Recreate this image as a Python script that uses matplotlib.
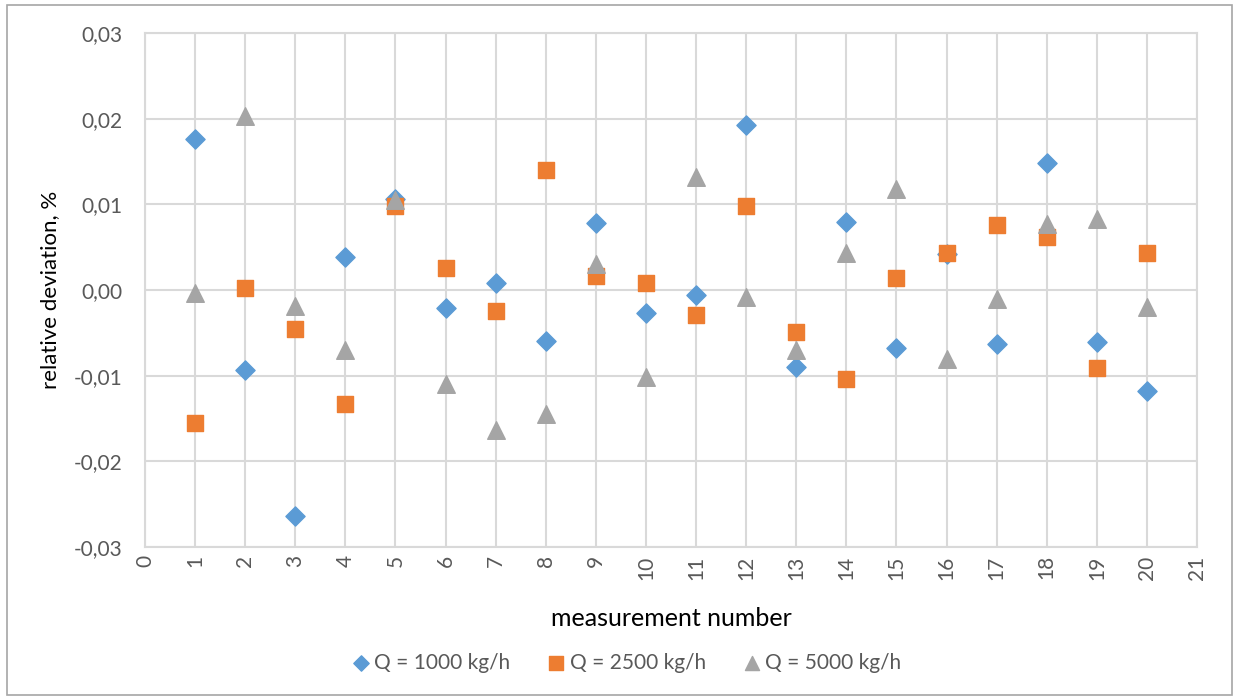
# Relative deviation of each measurement for three mass flow rates
import matplotlib
matplotlib.use('Agg')
import matplotlib.pyplot as plt
from matplotlib.patches import Rectangle
from matplotlib.ticker import FuncFormatter

plt.rcParams['font.family'] = ['Lato', 'DejaVu Sans']

# Measurement numbers and relative deviations per flow rate
measurement = list(range(1, 21))
dev_1000 = [0.0176, -0.0093, -0.0264, 0.0039, 0.0106, -0.0021, 0.0008, -0.0060,
            0.0078, -0.0027, -0.0006, 0.0193, -0.0090, 0.0079, -0.0068, 0.0042,
            -0.0063, 0.0148, -0.0061, -0.0118]
dev_2500 = [-0.0155, 0.0002, -0.0046, -0.0133, 0.0098, 0.0026, -0.0025, 0.0140,
            0.0016, 0.0008, -0.0029, 0.0098, -0.0049, -0.0104, 0.0014, 0.0043,
            0.0076, 0.0062, -0.0091, 0.0043]
dev_5000 = [-0.0003, 0.0203, -0.0019, -0.0070, 0.0105, -0.0110, -0.0163, -0.0145,
            0.0030, -0.0102, 0.0132, -0.0008, -0.0070, 0.0043, 0.0118, -0.0080,
            -0.0010, 0.0077, 0.0083, -0.0020]
labels = ['Q = 1000 kg/h', 'Q = 2500 kg/h', 'Q = 5000 kg/h']

grid_col = '#D9D9D9'
text_col = '#595959'

fig = plt.figure(figsize=(12.37, 7.0), dpi=100)
fig.patches.append(Rectangle((0.006, 0.007), 0.99, 0.986, transform=fig.transFigure,
                             fill=False, edgecolor='#A6A6A6', linewidth=1.2))

ax = fig.add_axes([0.1172, 0.2186, 0.8505, 0.7343])
ax.set_axisbelow(True)

ax.scatter(measurement, dev_1000, marker='D', s=95, color='#5B9BD5', label=labels[0], zorder=3)
ax.scatter(measurement, dev_2500, marker='s', s=140, color='#ED7D31', label=labels[1], zorder=3)
ax.scatter(measurement, dev_5000, marker='^', s=160, color='#A5A5A5', label=labels[2], zorder=3)

ax.set_xlim(0, 21)
ax.set_ylim(-0.03, 0.03)
ax.set_xticks(range(0, 22))
ax.set_yticks([-0.03, -0.02, -0.01, 0.0, 0.01, 0.02, 0.03])
ax.yaxis.set_major_formatter(FuncFormatter(lambda v, p: ('%.2f' % v).replace('.', ',')))
ax.grid(True, color=grid_col, linewidth=1.5)
for s in ax.spines.values():
    s.set_color(grid_col)
    s.set_linewidth(1.5)
ax.tick_params(axis='both', length=0, colors=text_col, labelsize=15)
ax.tick_params(axis='x', rotation=90, pad=6)
ax.tick_params(axis='y', pad=16)

ax.set_xlabel('measurement number', fontsize=18, color='black', labelpad=20)
ax.set_ylabel('relative deviation, %', fontsize=16, color='black', labelpad=10)

leg = fig.legend(loc='center', bbox_to_anchor=(0.506, 0.053), ncol=3, frameon=False,
                 fontsize=15, handlelength=1.0, handletextpad=0.15, columnspacing=1.7,
                 markerscale=0.8)
for t in leg.get_texts():
    t.set_color(text_col)

fig.savefig('out.png', dpi=100)
